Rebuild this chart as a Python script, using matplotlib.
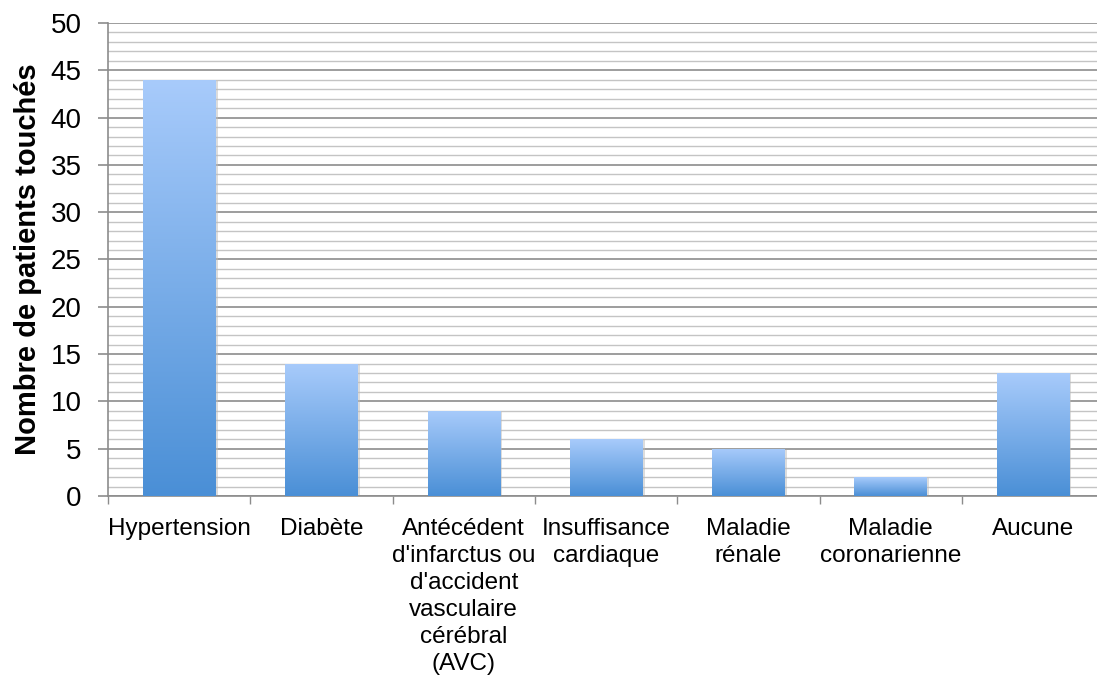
import matplotlib
matplotlib.use("Agg")
import matplotlib.pyplot as plt
import numpy as np
from matplotlib.colors import LinearSegmentedColormap
from matplotlib.ticker import MultipleLocator

plt.rcParams['font.family'] = ['Liberation Sans', 'DejaVu Sans']

categories = ["Hypertension", "Diabète",
              "Antécédent\nd'infarctus ou\nd'accident\nvasculaire\ncérébral\n(AVC)",
              "Insuffisance\ncardiaque", "Maladie\nrénale", "Maladie\ncoronarienne",
              "Aucune"]
values = [44, 14, 9, 6, 5, 2, 13]

fig = plt.figure(figsize=(10.97, 6.8), dpi=100)
ax = fig.add_axes([0.0985, 0.2706, 0.908, 0.6956])

x = np.arange(len(categories))
width = 0.51
cmap = LinearSegmentedColormap.from_list("grad", ["#4a8fd6", "#a8cbfb"])
grad = np.linspace(0, 1, 256).reshape(-1, 1)

bars = ax.bar(x, values, width=width, color="none", edgecolor="none", zorder=3)
for b in bars:
    x0, y0 = b.get_x(), b.get_y()
    w, h = b.get_width(), b.get_height()
    # soft shadow
    ax.bar(x0 + w / 2 + 0.015, h, width=w, bottom=-0.12, color="#bbbbbb",
           alpha=0.5, edgecolor="none", zorder=2.5)
    im = ax.imshow(grad, cmap=cmap, origin="lower", aspect="auto",
                   extent=[x0, x0 + w, y0, y0 + h], zorder=3)
    im.set_clip_path(b)

ax.set_xlim(-0.5, len(categories) - 0.5)
ax.set_ylim(0, 50)
ax.yaxis.set_major_locator(MultipleLocator(5))
ax.yaxis.set_minor_locator(MultipleLocator(1))
ax.grid(axis="y", which="major", color="#8c8c8c", linewidth=1.2, zorder=0)
ax.grid(axis="y", which="minor", color="#c4c4c4", linewidth=1.0, zorder=0)
ax.set_axisbelow(True)

ax.set_xticks(x)
ax.set_xticklabels(categories, fontsize=17.5, va="top", linespacing=1.3)
ax.set_xticks(np.arange(-0.5, len(categories), 1), minor=True)
ax.tick_params(axis="x", which="major", length=0, pad=15.5)
ax.tick_params(axis="x", which="minor", length=6, color="#8c8c8c", width=1)
ax.tick_params(axis="y", which="major", labelsize=20, length=7, color="#8c8c8c",
               width=1.2, pad=12)
ax.tick_params(axis="y", which="minor", length=0)

for s in ["top", "right"]:
    ax.spines[s].set_visible(False)
ax.spines["left"].set_color("#8c8c8c")
ax.spines["bottom"].set_color("#8c8c8c")
ax.spines["left"].set_linewidth(1.2)
ax.spines["bottom"].set_linewidth(1.2)

ax.set_ylabel("Nombre de patients touchés", fontsize=21, fontweight="bold", labelpad=6)

fig.savefig("out.png", dpi=100)
